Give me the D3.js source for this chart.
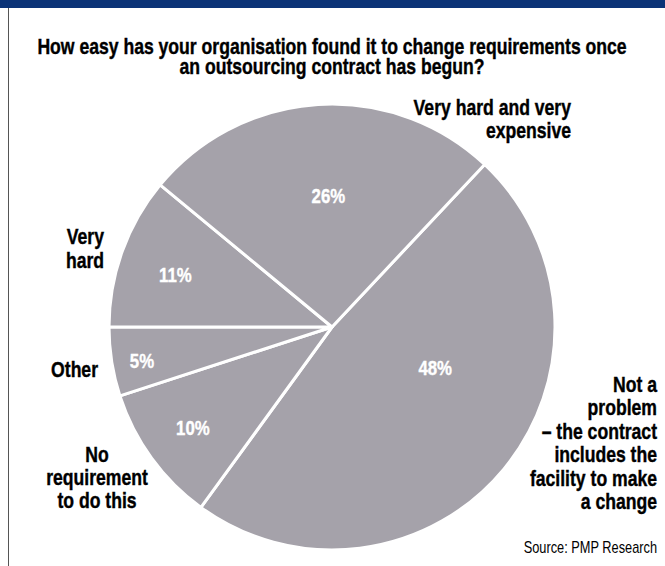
<!DOCTYPE html>
<html>
<head>
<meta charset="utf-8">
<script src="https://cdn.jsdelivr.net/npm/d3@7"></script>
<style>
	body { margin: 0; background: #fff; }
	svg { display: block; }
</style>
</head>
<body>
<div id="chart"></div>
<script>
// data
const categories = [
	"Not a problem – the contract includes the facility to make a change",
	"No requirement to do this",
	"Other",
	"Very hard",
	"Very hard and very expensive"
];
const values = [48, 10, 5, 11, 26];
const labelLines = [
	["Not a", "problem", "– the contract", "includes the", "facility to make", "a change"],
	["No", "requirement", "to do this"],
	["Other"],
	["Very", "hard"],
	["Very hard and very", "expensive"]
];
const titleLines = [
	"How easy has your organisation found it to change requirements once",
	"an outsourcing contract has begun?"
];
const sourceText = "Source: PMP Research";

// layout
const width = 665, height = 566;
const cx = 332, cy = 327, radius = 223;
const font = "'Liberation Sans', Arial, Helvetica, sans-serif";
const squeeze = 0.8; // fake a condensed face
const labelLayout = [
	{x: 657, y: 392, anchor: "end", step: 23.4},
	{x: 97, y: 462, anchor: "middle", step: 23},
	{x: 98, y: 377, anchor: "end", step: 23},
	{x: 104, y: 244, anchor: "end", step: 23.5},
	{x: 571, y: 115, anchor: "end", step: 22.5}
];
// radius and angle shift (degrees) of the % labels
const pctLayout = [
	{r: 111, shift: -18},
	{r: 172, shift: 0},
	{r: 193, shift: -1},
	{r: 165, shift: -1.5},
	{r: 131, shift: 2}
];

const svg = d3.select("#chart").append("svg")
	.attr("width", width)
	.attr("height", height);

svg.append("rect")
	.attr("x", 0).attr("y", 0)
	.attr("width", width).attr("height", 8)
	.attr("fill", "#0b3377");
svg.append("line")
	.attr("x1", 8.5).attr("x2", 8.5)
	.attr("y1", 8).attr("y2", height)
	.attr("stroke", "#555").attr("stroke-width", 1);

function squeezedText(parent, x, y, str, anchor, size, weight, fill) {
	const t = parent.append("g")
		.attr("transform", `translate(${x},${y}) scale(${squeeze},1)`)
		.append("text")
		.attr("text-anchor", anchor)
		.style("font-family", font)
		.style("font-weight", weight)
		.style("font-size", size + "px")
		.attr("fill", fill)
		.text(str);
	if (weight === "bold") t.attr("stroke", fill).attr("stroke-width", 0.4);
	return t;
}

titleLines.forEach((t, i) => {
	squeezedText(svg, 332, 54 + i * 20, t, "middle", 22, "bold", "#000");
});

// "Very hard" slice begins at 9 o'clock
const total = d3.sum(values);
const startDeg = 270 - d3.sum(values.slice(0, 3)) / total * 360;
const pie = d3.pie().sort(null).value(d => d)
	.startAngle(startDeg * Math.PI / 180)
	.endAngle((startDeg + 360) * Math.PI / 180);
const arcs = pie(values);
const arc = d3.arc().innerRadius(0).outerRadius(radius);

const g = svg.append("g").attr("transform", `translate(${cx},${cy})`);
g.selectAll("path")
	.data(arcs)
	.join("path")
	.attr("d", arc)
	.attr("fill", "#a5a2aa")
	.attr("stroke", "#fff")
	.attr("stroke-width", 3)
	.attr("stroke-linejoin", "round");

arcs.forEach((d, i) => {
	const a = (d.startAngle + d.endAngle) / 2 + pctLayout[i].shift * Math.PI / 180;
	const x = Math.sin(a) * pctLayout[i].r;
	const y = -Math.cos(a) * pctLayout[i].r;
	squeezedText(g, x, y, d.data + "%", "middle", 21, "bold", "#fff")
		.attr("dominant-baseline", "central");
});

labelLines.forEach((lines, i) => {
	const lay = labelLayout[i];
	lines.forEach((line, j) => {
		squeezedText(svg, lay.x, lay.y + j * lay.step, line, lay.anchor, 22, "bold", "#000");
	});
});

squeezedText(svg, 657, 553, sourceText, "end", 16, "normal", "#000");
</script>
</body>
</html>
